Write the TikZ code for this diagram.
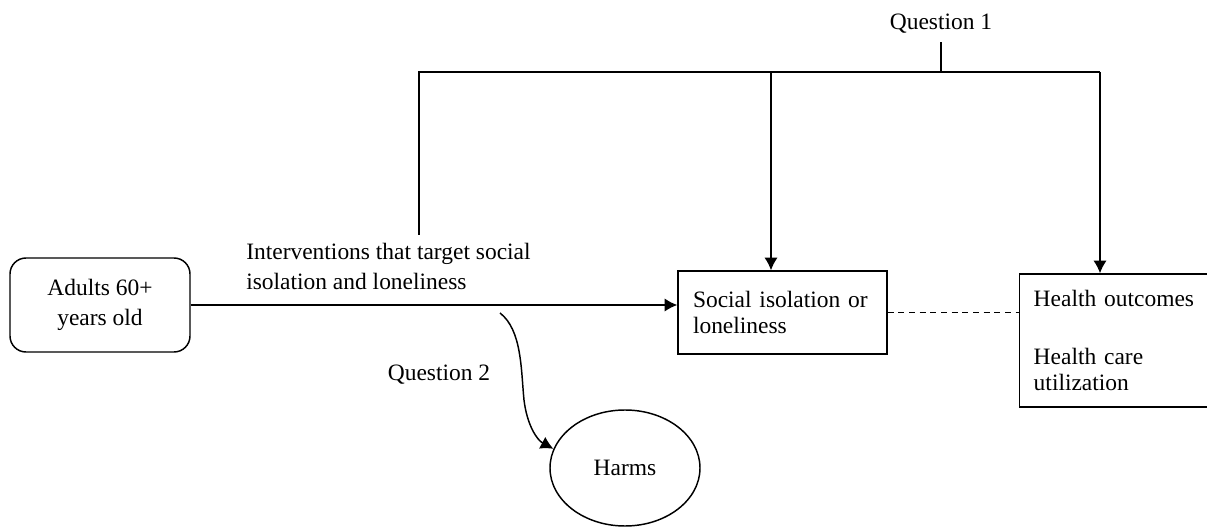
\documentclass[tikz,border=0pt]{standalone}
\usepackage{fontspec}
\setmainfont{Liberation Serif}
\usetikzlibrary{shapes.geometric,arrows.meta}
\begin{document}
\begin{tikzpicture}[x=0.75pt,y=-0.75pt,
  every node/.style={font=\fontsize{17.6pt}{19.5pt}\selectfont},
  line/.style={line width=1.1pt},
  arr/.style={line width=1.1pt,-{Latex[length=9.5pt,width=10pt]}},
  boxnode/.style={draw,line width=1.1pt,rectangle,inner ysep=0pt},
]
\useasboundingbox (0,0) rectangle (1207,527);
% nodes
\node[boxnode,rounded corners=12pt,minimum width=135pt,minimum height=70.5pt,align=center] (adults) at (100,305) {Adults 60+\\[3pt]years old};
\node[boxnode,minimum height=62.25pt,text width=134.25pt,inner xsep=11.25pt,align=left] (social) at (782.5,312.5) {Social isolation or\\loneliness};
\node[boxnode,minimum height=99.75pt,text width=128pt,inner xsep=10.5pt,anchor=west,align=left] (health) at (1019,340.5) {Health outcomes\\[24pt]Health care\\utilization};
\node[draw,line width=1.1pt,ellipse,minimum width=112.5pt,minimum height=87pt,inner sep=0pt] (harms) at (625,468) {Harms};
\node[anchor=north west,inner sep=0pt,align=left] (interv) at (246,243) {Interventions that target social\\[3pt]isolation and loneliness};
\node[anchor=base,inner sep=0pt] (q1) at (941,30) {Question 1};
\node[anchor=base,inner sep=0pt] (q2) at (439,380) {Question 2};
% coordinates
\coordinate (tl) at (419,72);
\coordinate (tm) at (771,72);
\coordinate (tq) at (941,72);
\coordinate (tr) at (1100,72);
\coordinate (lb) at (419,235);
\coordinate (cs) at (500,313);
% connectors
\draw[arr] (adults.east) -- (adults.east -| social.west);
\draw[line,dash pattern=on 4.5pt off 3.5pt] (social.east) -- (social.east -| health.west);
\draw[line] (lb) -- (tl) -- (tr);
\draw[arr] (tm) -- (tm |- social.north);
\draw[arr] (tr) -- (tr |- health.north);
\draw[line] (tq) -- ([yshift=-6pt]q1.south);
\draw[arr] (cs) .. controls (522,330) and (521,370) .. (524,400) .. controls (527,425) and (537,440) .. (harms.165);
\end{tikzpicture}
\end{document}
